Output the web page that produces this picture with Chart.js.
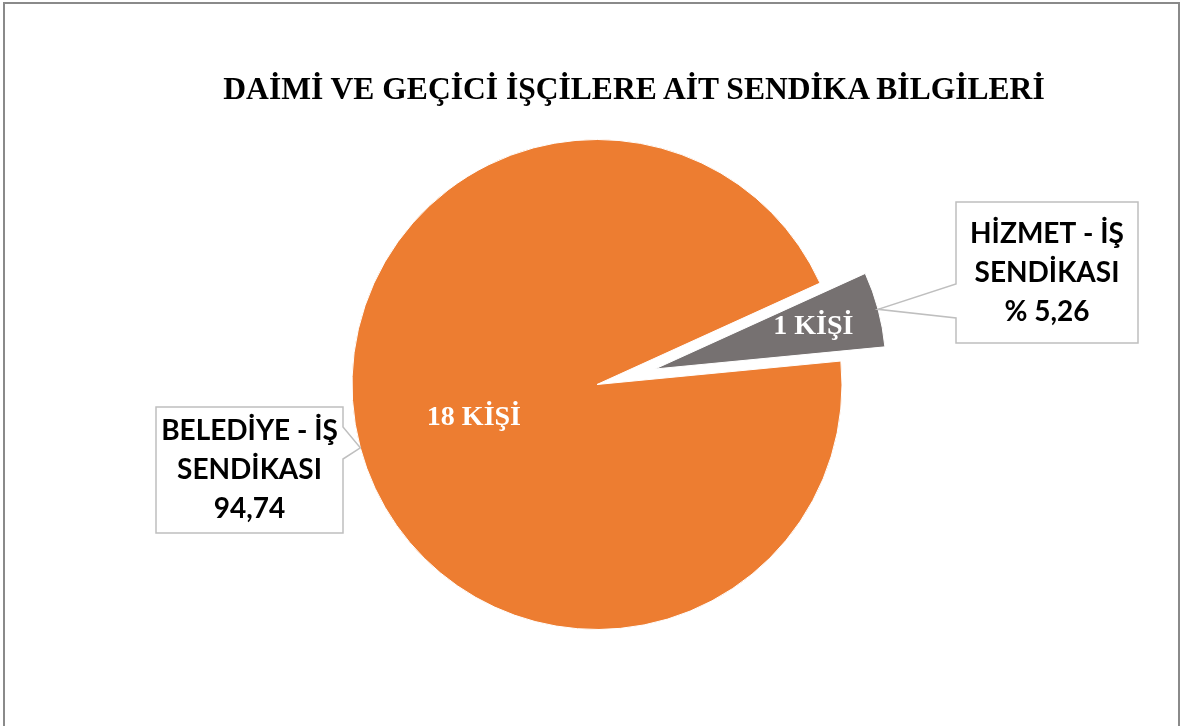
<!DOCTYPE html>
<html lang="tr">
<head>
<meta charset="utf-8">
<title>Sendika Bilgileri</title>
<script src="https://cdn.jsdelivr.net/npm/chart.js@4.4.0/dist/chart.umd.min.js"></script>
<style>
  html, body { margin: 0; padding: 0; background: #fff; }
  #wrap { position: relative; width: 1181px; height: 726px; overflow: hidden; }
  #frame {
    position: absolute; left: 3px; top: 2px; width: 1173px; height: 800px;
    border: 2px solid #8a8a8a; pointer-events: none;
  }
  #title {
    position: absolute; left: 0; width: 1268px; top: 72px;
    text-align: center; white-space: nowrap;
    font: bold 32px/32px "Liberation Serif", "Times New Roman", serif;
    color: #000; transform-origin: 634px 50%;
  }
  canvas { position: absolute; left: 0; top: 0; }
</style>
</head>
<body>
<div id="wrap">
  <canvas id="pie" width="1181" height="726"></canvas>
  <div id="title">DAİMİ VE GEÇİCİ İŞÇİLERE AİT SENDİKA BİLGİLERİ</div>
  <div id="frame"></div>
</div>
<script>
// values
const unions = [["BELEDİYE - İŞ", "SENDİKASI"], ["HİZMET - İŞ", "SENDİKASI"]];
const workers = [18, 1];
const shares = ["94,74", "% 5,26"];
const unit = "KİŞİ";

const colors = ["#ED7D31", "#767171"];
const explode = [0, 60];        // px the slice is pulled out
const shrink = [0, 14];         // exploded slice is drawn a bit smaller
const labelPos = [0.52, 0.71];  // inner label distance, share of radius
// callout boxes: x, y, w, h and the notch span on the side facing the pie
const boxes = [
  { x: 156, y: 407, w: 187, h: 126, n1: 427, n2: 459 },
  { x: 956, y: 202, w: 182, h: 141, n1: 284, n2: 318 },
];

// squeeze the title to the width it has in the picture
(function () {
  const t = document.getElementById("title");
  const c = document.createElement("canvas").getContext("2d");
  c.font = 'bold 32px "Liberation Serif"';
  const w = c.measureText(t.textContent).width;
  t.style.transform = "scaleX(" + (826 / w) + ")";
})();

const explodePlugin = {
  id: "explode",
  afterDatasetsUpdate(chart) {
    const arcs = chart.getDatasetMeta(0).data;
    const cx = arcs[0].x, cy = arcs[0].y, r = arcs[0].outerRadius;
    arcs.forEach((a, i) => {
      const mid = (a.startAngle + a.endAngle) / 2;
      a.x = cx + Math.cos(mid) * explode[i];
      a.y = cy + Math.sin(mid) * explode[i];
      a.outerRadius = r - shrink[i];
    });
  }
};

const labelPlugin = {
  id: "labels",
  afterDatasetsDraw(chart) {
    const ctx = chart.ctx;
    const arcs = chart.getDatasetMeta(0).data;
    ctx.save();
    arcs.forEach((a, i) => {
      const mid = (a.startAngle + a.endAngle) / 2;
      // count inside the slice
      ctx.fillStyle = "#fff";
      ctx.font = 'bold 28px "Liberation Serif", serif';
      ctx.textAlign = "center";
      ctx.textBaseline = "middle";
      ctx.fillText(workers[i] + " " + unit,
        a.x + Math.cos(mid) * a.outerRadius * labelPos[i],
        a.y + Math.sin(mid) * a.outerRadius * labelPos[i]);

      // callout with a pointer to the slice edge
      const b = boxes[i];
      const tx = a.x + Math.cos(mid) * a.outerRadius;
      const ty = a.y + Math.sin(mid) * a.outerRadius;
      ctx.beginPath();
      ctx.moveTo(b.x, b.y);
      ctx.lineTo(b.x + b.w, b.y);
      if (tx > b.x + b.w) {
        ctx.lineTo(b.x + b.w, b.n1);
        ctx.lineTo(tx, ty);
        ctx.lineTo(b.x + b.w, b.n2);
      }
      ctx.lineTo(b.x + b.w, b.y + b.h);
      ctx.lineTo(b.x, b.y + b.h);
      if (tx < b.x) {
        ctx.lineTo(b.x, b.n2);
        ctx.lineTo(tx, ty);
        ctx.lineTo(b.x, b.n1);
      }
      ctx.closePath();
      ctx.fillStyle = "#fff";
      ctx.fill();
      ctx.strokeStyle = "#BFBFBF";
      ctx.lineWidth = 1.5;
      ctx.stroke();

      const lines = unions[i].concat([shares[i]]);
      const lh = 39;
      const cx = b.x + b.w / 2;
      const top = b.y + b.h / 2 - lh * (lines.length - 1) / 2;
      ctx.fillStyle = "#000";
      ctx.font = 'bold 28px Lato, "Liberation Sans", sans-serif';
      lines.forEach((s, k) => ctx.fillText(s, cx, top + k * lh));
    });
    ctx.restore();
  }
};

new Chart(document.getElementById("pie"), {
  type: "pie",
  data: {
    labels: unions.map(u => u.join(" ")),
    datasets: [{
      data: workers,
      backgroundColor: colors,
      borderColor: "#fff",
      borderWidth: 1,
    }],
  },
  options: {
    responsive: false,
    animation: false,
    rotation: 84.5,
    radius: 245,
    layout: { padding: { left: 300, right: 287, top: 120, bottom: 77 } },
    plugins: {
      legend: { display: false },
      tooltip: { enabled: false },
    },
  },
  plugins: [explodePlugin, labelPlugin],
});
</script>
</body>
</html>
